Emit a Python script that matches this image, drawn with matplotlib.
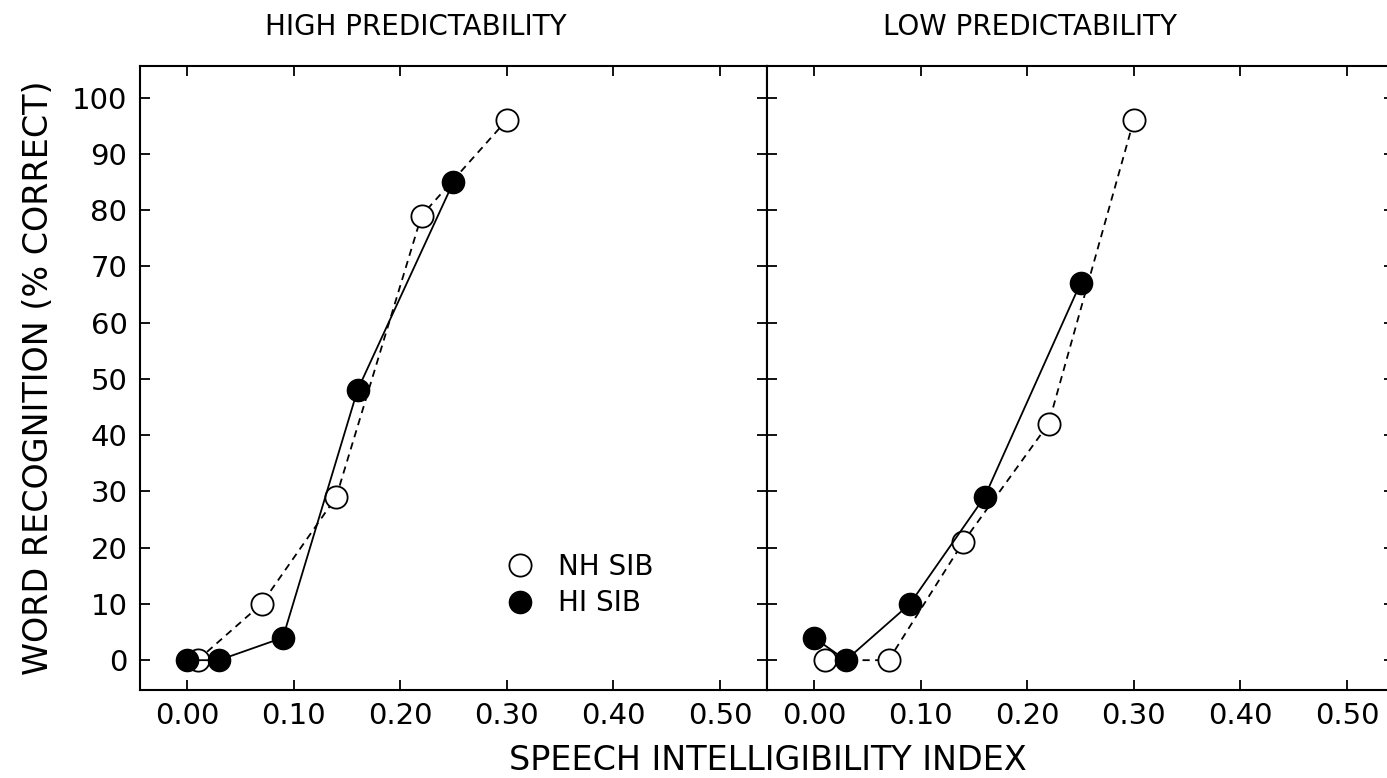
import matplotlib
matplotlib.use('Agg')
import matplotlib.pyplot as plt
from matplotlib.lines import Line2D

plt.rcParams['font.family'] = ['DejaVu Sans']

# Dados
sii_nh = [0.01, 0.07, 0.14, 0.22, 0.30]
sii_hi = [0.00, 0.03, 0.09, 0.16, 0.25]

alta_nh = [0, 10, 29, 79, 96]
alta_hi = [0, 0, 4, 48, 85]

baixa_nh = [0, 0, 21, 42, 96]
baixa_hi = [4, 0, 10, 29, 67]

titulos = ['HIGH PREDICTABILITY', 'LOW PREDICTABILITY']
xticks = [0.0, 0.1, 0.2, 0.3, 0.4, 0.5]
yticks = list(range(0, 101, 10))

W, H = 1387, 778
fig = plt.figure(figsize=(W / 100, H / 100), dpi=100)

ax1 = fig.add_axes([140 / W, (H - 690) / H, 627 / W, 624 / H])
ax2 = fig.add_axes([767 / W, (H - 690) / H, 627 / W, 624 / H])

paineis = [(ax1, alta_nh, alta_hi), (ax2, baixa_nh, baixa_hi)]
for i, (ax, nh, hi) in enumerate(paineis):
    ax.plot(sii_nh, nh, linestyle=(0, (4, 3)), color='black', lw=1.3,
            marker='o', ms=16, mfc='white', mec='black', mew=1.3, zorder=3)
    ax.plot(sii_hi, hi, linestyle='-', color='black', lw=1.3,
            marker='o', ms=16, mfc='black', mec='black', zorder=4)
    ax.set_xlim(-0.044, 0.544)
    ax.set_ylim(-5.3, 105.6)
    ax.set_xticks(xticks)
    ax.set_xticklabels([f'{v:.2f}' for v in xticks])
    ax.set_yticks(yticks)
    ax.tick_params(direction='in', length=7, width=1.3, top=True, right=True,
                   labelsize=21, pad=9)
    for s in ax.spines.values():
        s.set_linewidth(1.5)
    ax.text(0.44 if i == 0 else 0.42, 1.04, titulos[i], transform=ax.transAxes,
            ha='center', va='bottom', fontsize=20)

ax2.tick_params(labelleft=False)
ax1.set_ylabel('WORD RECOGNITION (% CORRECT)', fontsize=24, labelpad=12)
fig.text(768 / W, 1 - 760 / H, 'SPEECH INTELLIGIBILITY INDEX',
         ha='center', va='center', fontsize=24)

leg = [Line2D([], [], linestyle='none', marker='o', ms=16, mfc='white',
              mec='black', mew=1.3, label='NH SIB'),
       Line2D([], [], linestyle='none', marker='o', ms=16, mfc='black',
              mec='black', label='HI SIB')]
ax1.legend(handles=leg, loc='lower left', bbox_to_anchor=(0.558, 0.094),
           frameon=False, fontsize=20, handletextpad=0.75, labelspacing=0.3,
           handlelength=1.2, borderpad=0)

plt.savefig('out.png', dpi=100)
